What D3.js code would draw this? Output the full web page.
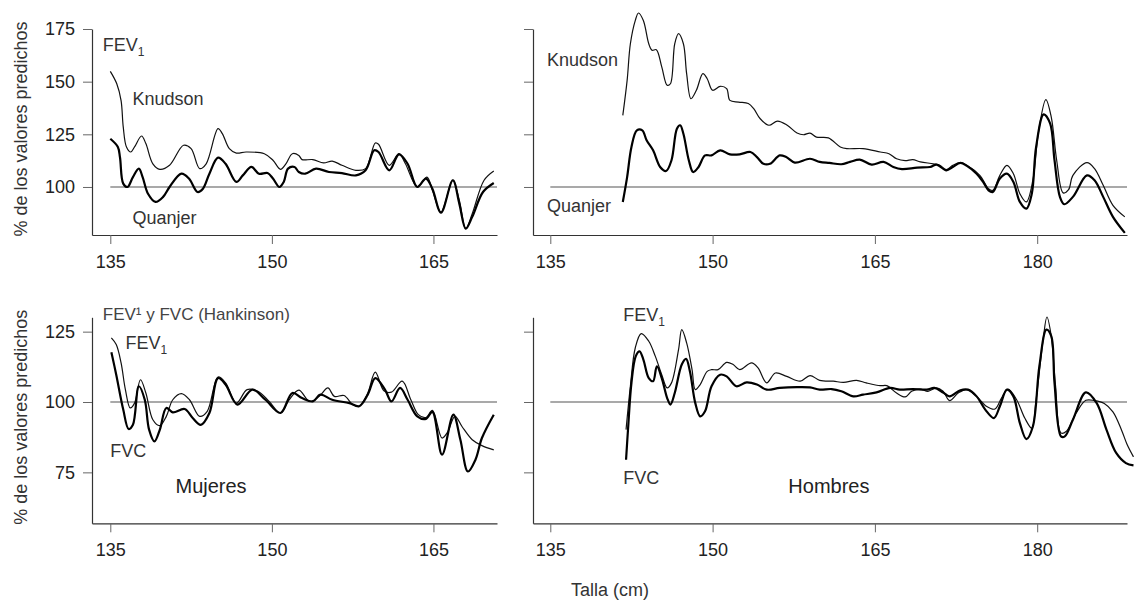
<!DOCTYPE html>
<html>
<head>
<meta charset="utf-8">
<script src="https://cdn.jsdelivr.net/npm/d3@7"></script>
<style>
  body { margin: 0; background: #fff; }
  text { font-family: "Liberation Sans", Arial, sans-serif; }
</style>
</head>
<body>
<svg width="1134" height="600"></svg>
<script>
// talla (cm) vs % de los valores predichos
const mujeresKnudson = [[135,154.9],[135.6,149],[136.0,141],[136.2,128.5],[136.5,119],[136.9,116.6],[137.25,119],[137.9,124.2],[138.3,120.6],[138.95,111],[139.6,108.4],[140.5,110.3],[141.8,119.8],[142.5,118.2],[143.3,108.7],[143.9,111],[145.0,127.7],[145.4,125.3],[146.05,118.2],[146.7,116.1],[147.6,116.6],[149.3,115.8],[150.1,112.7],[150.8,108.4],[151.3,111],[151.9,115.8],[152.5,115],[152.8,113],[153.8,113],[154.8,111.4],[155.6,112.3],[156.5,110.3],[157.8,107.9],[158.7,108.7],[159.6,120.9],[159.9,120.3],[160.9,110.3],[161.8,115.8],[162.4,111],[163.5,100],[164.4,104.7],[164.9,98.4],[165.7,88.1],[166.8,103.2],[167.4,93.7],[168.0,80.2],[168.6,87.3],[169.7,103.2],[170.6,107.6]];
const mujeresQuanjer = [[135,122.9],[135.7,119],[135.9,114],[136.2,101.6],[136.6,100],[137.1,104.7],[137.65,108.7],[138.0,104.7],[138.5,96.8],[139.2,92.9],[139.9,95.3],[140.5,100],[141.6,106.3],[142.3,104],[143.1,97.6],[143.6,99.2],[144.2,106.3],[145.0,113.9],[145.7,111],[146.7,102.4],[147.3,105.5],[148.1,109.5],[148.8,106.3],[149.6,106.6],[150.1,104],[150.7,100],[151.1,102.4],[151.5,108.7],[152.1,109.5],[152.5,107.1],[153.1,106.3],[154.1,108.7],[155.3,107.1],[156.5,106.6],[157.8,105.5],[158.7,107.9],[159.5,117.4],[159.9,116.6],[160.9,107.9],[161.8,115.5],[162.6,111],[163.5,100],[164.3,104],[164.9,99.2],[165.7,87.8],[166.8,103.2],[167.4,92.1],[168.0,80.2],[168.6,85.8],[169.6,97.6],[170.6,101.9]];

const hombresKnudson = [[141.7,134],[142.1,150.6],[142.4,168],[142.85,179],[143.15,182.6],[143.6,179],[144.1,168],[144.4,164.9],[144.8,165.2],[145.3,157],[145.8,148.3],[146.1,149],[146.5,168],[146.85,172.8],[147.3,168],[147.6,153.8],[148.0,141.9],[148.5,145.9],[149.1,153.8],[149.5,151.4],[150.0,145.9],[150.7,147.8],[151.3,146.7],[151.6,141.1],[152.4,140.3],[153.3,139.6],[153.8,137.2],[154.4,132.4],[155.2,129.3],[156.0,131.3],[156.9,129.3],[157.8,125.6],[158.4,124.8],[159.0,125.6],[159.6,123.7],[160.7,123.3],[161.8,119],[162.4,118.2],[163.9,118.2],[165.5,116.6],[166.3,115.8],[167.0,113.4],[167.8,112.5],[168.5,113],[169.2,111.9],[170.4,111],[171.0,110.3],[171.6,108.2],[172.2,110.3],[172.9,111.6],[173.5,110.3],[174.7,105.5],[175.5,99.2],[175.9,98.4],[176.55,105.5],[177.2,110.3],[177.8,106.3],[178.4,96.8],[179.0,92.9],[179.6,103.2],[180.1,125.3],[180.8,141.5],[181.3,133.2],[181.8,112.7],[182.4,97.2],[182.9,98.7],[183.3,105.5],[184.6,111.6],[185.3,108.7],[186.1,100.8],[187.0,91.3],[188.1,85.8]];
const hombresQuanjer = [[141.7,92.9],[142.1,104.7],[142.5,119],[143.0,126.9],[143.5,126.9],[143.9,122.2],[144.5,117.4],[145.15,109.5],[145.7,107.6],[146.2,112.7],[146.7,127.7],[147.0,129.3],[147.3,125.3],[147.8,112.7],[148.2,107.1],[148.7,109.5],[149.3,115],[149.9,115],[150.7,117.4],[151.6,115.5],[152.5,115.5],[153.5,116.6],[154.1,114.2],[154.7,111],[155.3,111],[156.2,115],[156.8,114.2],[157.6,111.6],[159.0,113.4],[159.9,111.9],[160.8,111.4],[161.9,110.8],[162.7,111.9],[163.6,113],[164.7,110.6],[165.8,111.9],[166.7,109.5],[167.5,108.5],[168.9,109.2],[170.1,109.5],[170.7,110.6],[171.6,107.9],[172.2,109.5],[172.9,111.4],[173.5,110],[174.4,106.3],[175.0,102.4],[175.5,98.4],[175.9,97.6],[176.55,104],[177.2,106.3],[177.8,102.4],[178.4,92.9],[179.0,89.7],[179.5,96.8],[179.9,119],[180.6,134.5],[181.2,130.1],[181.6,112.7],[182.1,95.3],[182.5,91.8],[183.3,95.3],[184.6,105.5],[185.3,103.2],[186.1,95.3],[187.0,85.8],[188.1,78.2]];

const mujeresFev1 = [[135.1,122.8],[135.55,120.4],[136.0,113.9],[136.4,104.4],[136.85,97.9],[137.25,99.6],[137.8,107.9],[138.3,103.2],[138.95,93.7],[139.6,91.6],[140.2,94.9],[140.8,100.8],[141.6,103],[142.35,100.8],[143.3,94.9],[144.0,96.7],[145.0,108.9],[145.7,106.8],[146.7,99.6],[147.7,104.4],[148.7,103.8],[149.75,100.2],[150.8,96.1],[151.6,100.8],[152.5,104.2],[153.5,100.2],[154.4,102],[155.2,105],[155.8,102],[156.7,102.3],[157.5,99.1],[158.1,98.5],[158.9,103.2],[159.6,110.6],[160.4,104],[161.1,103.5],[162.1,107.4],[162.9,100.8],[163.6,95.5],[164.3,94.5],[164.9,97],[165.8,87.2],[166.3,89.2],[167.0,94.9],[167.65,91.3],[168.6,86.6],[169.5,84.5],[170.6,83]];
const mujeresFvc = [[135.1,117.7],[135.55,109.7],[136.2,97.3],[136.7,90.4],[137.1,91.9],[137.65,105.6],[138.2,100.8],[138.6,90.2],[139.1,86],[139.6,90.2],[140.2,97.9],[140.8,96.3],[141.9,97.5],[142.65,94.3],[143.4,91.9],[144.2,96.1],[145.0,108.5],[145.7,106.2],[146.8,99.1],[148.2,104.4],[149.4,100.8],[150.8,96.1],[151.9,103.2],[152.8,101.4],[153.8,100.2],[154.5,102.6],[155.6,100.8],[157.2,99.6],[158.1,98.5],[158.9,102.6],[159.6,108.5],[160.5,104.4],[161.1,100.2],[161.9,105],[162.6,100.8],[163.5,94.9],[164.3,94],[164.9,96.5],[165.8,81.3],[166.85,95.5],[167.5,86.6],[168.2,75.3],[168.9,79.5],[169.5,87.2],[170.6,95.5]];

const hombresFev1 = [[142.0,90.2],[142.4,105.6],[142.85,119.2],[143.4,124.3],[144.1,121.6],[144.7,116.3],[145.3,109.7],[145.8,105],[146.2,106.8],[146.85,118.6],[147.15,125.7],[147.6,121],[148.1,111.5],[148.4,104.4],[148.85,106.2],[149.5,110.9],[149.9,111.5],[150.5,111.5],[151.3,114.1],[151.9,113.3],[152.5,111.5],[153.6,113.9],[154.2,112.1],[155.0,106.8],[155.8,110.3],[156.85,109.1],[158.1,107.4],[159.0,109.4],[159.9,107.7],[161.15,107.4],[162.1,107],[163.3,107.7],[164.2,106.8],[165.5,105.8],[166.1,105.8],[167.0,103.2],[167.8,101.8],[168.4,103.8],[169.2,104.6],[169.9,103.8],[170.7,105],[171.3,103.8],[171.9,100.5],[172.7,103.2],[173.5,104.4],[174.4,102],[175.3,98.5],[176.1,97.5],[176.7,101.4],[177.3,104.6],[178.1,100.8],[178.85,94.3],[179.5,90.7],[179.9,100.8],[180.55,122.2],[180.9,130.2],[181.3,123.4],[181.7,105.6],[182.2,89],[182.7,89.6],[183.6,96.1],[184.5,100.6],[185.3,100.5],[186.2,99.5],[187.0,96.5],[187.8,90],[188.3,85],[188.9,80.5]];
const hombresFvc = [[142.0,79.5],[142.2,91.3],[142.5,106.8],[142.9,116.3],[143.25,118],[143.6,115.1],[144.1,108.5],[144.5,107.4],[144.85,112.7],[145.3,108.5],[145.8,101.4],[146.1,99.1],[146.5,103.2],[147.15,113.3],[147.55,115.3],[147.9,110.9],[148.4,99.6],[148.85,94.9],[149.3,96.7],[149.9,105.6],[150.7,109.7],[151.3,109.1],[152.2,105.6],[153.15,107],[154.1,106.2],[155.0,104.4],[156.2,105],[157.8,105.3],[159.0,105.2],[159.9,104.4],[161.0,104.6],[161.9,103.8],[163.0,102],[163.9,102.6],[165.15,103.4],[166.4,105],[167.3,104.4],[168.5,104.6],[169.8,104.4],[170.5,105],[171.3,103.4],[171.9,102],[172.9,104.2],[173.6,104.4],[174.4,102],[175.2,97.3],[176.0,94.3],[176.55,98.5],[177.2,104.4],[177.8,102],[178.4,92.5],[179.0,86.8],[179.6,91.3],[180.2,112.7],[180.85,125.7],[181.3,123.4],[181.6,106.8],[182.2,87.8],[182.55,87.8],[183.3,93.7],[184.5,103.4],[185.5,99.6],[186.4,90.2],[187.3,81.9],[188.2,78.3],[188.9,77.5]];

const xTicksMujeres = [135, 150, 165];
const xTicksHombres = [135, 150, 165, 180];
const yTicksArriba = [100, 125, 150, 175];
const yTicksAbajo = [75, 100, 125];

const svg = d3.select('svg');

const lineOf = (x, y) => d3.line()
    .x(d => x(d[0]))
    .y(d => y(d[1]))
    .curve(d3.curveCatmullRom.alpha(0.5));

function panel(p) {
  const x = d3.scaleLinear().domain(p.xDomain).range(p.xRange);
  const y = d3.scaleLinear().domain(p.yDomain).range(p.yRange);
  const g = svg.append('g');

  const xAxis = g.append('g')
      .attr('transform', `translate(0,${ p.yRange[0] })`)
      .call(d3.axisBottom(x).tickValues(p.xTicks).tickSize(9).tickSizeOuter(0).tickPadding(11));
  const yAxisGen = d3.axisLeft(y).tickValues(p.yTicks).tickSize(9).tickSizeOuter(0).tickPadding(8);
  if (!p.yLabels) yAxisGen.tickFormat('');
  const yAxis = g.append('g')
      .attr('transform', `translate(${ p.xRange[0] },0)`)
      .call(yAxisGen);

  [xAxis, yAxis].forEach(a => {
    a.select('.domain').attr('stroke', '#333').attr('stroke-width', 1.2);
    a.selectAll('.tick line').attr('stroke', '#666');
    a.selectAll('.tick text').attr('font-size', 18).attr('fill', '#222')
        .style('font-family', '"Liberation Sans", Arial, sans-serif');
  });

  // reference line at 100 %
  g.append('line')
      .attr('x1', x(135)).attr('x2', p.xRange[1])
      .attr('y1', y(100)).attr('y2', y(100))
      .attr('stroke', '#555').attr('stroke-width', 1.2);

  const line = lineOf(x, y);
  g.append('path').datum(p.thin)
      .attr('d', line).attr('fill', 'none')
      .attr('stroke', '#111').attr('stroke-width', 1.2);
  g.append('path').datum(p.thick)
      .attr('d', line).attr('fill', 'none')
      .attr('stroke', '#000').attr('stroke-width', 2.2);

  p.labels.forEach(l => {
    const t = g.append('text')
        .attr('x', x(l.at[0])).attr('y', y(l.at[1]))
        .attr('font-size', l.size || 18)
        .attr('fill', l.color || '#333')
        .text(l.text);
    if (l.sub) {
      t.append('tspan').attr('font-size', 12).attr('dy', 5).text(l.sub);
    }
  });

  if (p.yLabels) {
    g.append('text')
        .attr('transform', `translate(27,${ (p.yRange[0] + p.yRange[1]) / 2 - 3 }) rotate(-90)`)
        .attr('text-anchor', 'middle')
        .attr('font-size', 18)
        .attr('fill', '#333')
        .text('% de los valores predichos');
  }
}

panel({
  xDomain: [133.3, 170.9], xRange: [92, 497],
  yDomain: [77.2, 175], yRange: [235, 29],
  xTicks: xTicksMujeres, yTicks: yTicksArriba, yLabels: true,
  thin: mujeresKnudson, thick: mujeresQuanjer,
  labels: [
    { text: 'FEV', sub: '1', at: [134.3, 164.5] },
    { text: 'Knudson', at: [137.06, 138.9] },
    { text: 'Quanjer', at: [137.06, 82.4] }
  ]
});

panel({
  xDomain: [133.4, 188.3], xRange: [533, 1127],
  yDomain: [77.2, 175], yRange: [235, 29],
  xTicks: xTicksHombres, yTicks: yTicksArriba,
  thin: hombresKnudson, thick: hombresQuanjer,
  labels: [
    { text: 'Knudson', at: [134.7, 157.4] },
    { text: 'Quanjer', at: [134.7, 88.1] }
  ]
});

panel({
  xDomain: [133.3, 170.9], xRange: [92, 497],
  yDomain: [56.9, 130.1], yRange: [523.3, 317.3],
  xTicks: xTicksMujeres, yTicks: yTicksAbajo, yLabels: true,
  thin: mujeresFev1, thick: mujeresFvc,
  labels: [
    { text: 'FEV¹ y FVC (Hankinson)', at: [134.3, 129.3], size: 17, color: '#444' },
    { text: 'FEV', sub: '1', at: [136.4, 119] },
    { text: 'FVC', at: [135.0, 80.5] },
    { text: 'Mujeres', at: [141.05, 67.8], size: 20, color: '#222' }
  ]
});

panel({
  xDomain: [133.4, 188.3], xRange: [533, 1127],
  yDomain: [56.9, 130.1], yRange: [523.3, 317.3],
  xTicks: xTicksHombres, yTicks: yTicksAbajo,
  thin: hombresFev1, thick: hombresFvc,
  labels: [
    { text: 'FEV', sub: '1', at: [141.74, 128.9] },
    { text: 'FVC', at: [141.74, 70.9] },
    { text: 'Hombres', at: [157.0, 67.8], size: 20, color: '#222' }
  ]
});

svg.append('text')
    .attr('x', 610).attr('y', 596)
    .attr('text-anchor', 'middle')
    .attr('font-size', 18)
    .attr('fill', '#333')
    .text('Talla (cm)');
</script>
</body>
</html>
